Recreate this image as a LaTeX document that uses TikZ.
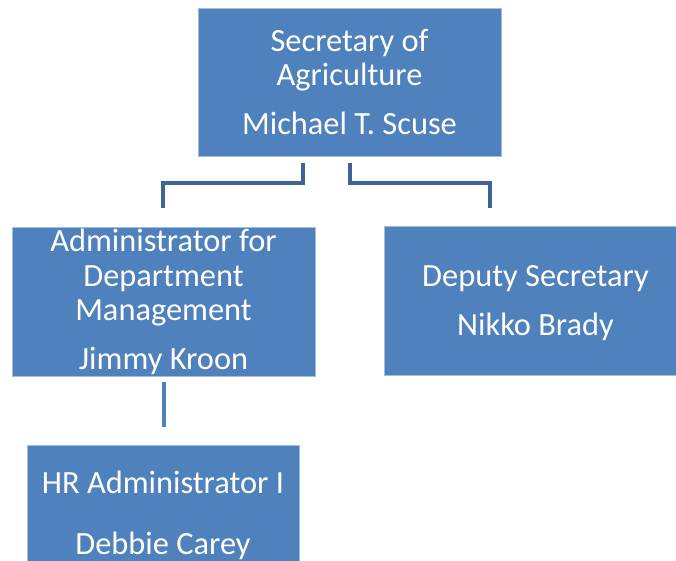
\documentclass[tikz,border=0pt]{standalone}
\usepackage{fontspec}
\setmainfont{Carlito}
\definecolor{boxblue}{RGB}{79,129,189}
\definecolor{boxedge}{RGB}{160,190,225}
\definecolor{linkblue}{RGB}{62,100,150}
\begin{document}
\begin{tikzpicture}[x=1pt,y=-1pt,
  orgbox/.style={fill=boxblue,draw=boxedge,line width=0.6pt,inner sep=0pt},
  orgtext/.style={text=white,align=center,font=\fontsize{32.4}{34.6}\selectfont,inner sep=0pt},
  link/.style={draw=linkblue,line width=4.5pt,line join=miter},
  sublink/.style={draw=boxblue,line width=3.5pt}]
\clip (0,0) rectangle (676,560);
\fill[white] (0,0) rectangle (676,560);
\node[orgbox,minimum width=303pt,minimum height=148pt] (sec) at (349.5,82) {};
\node[orgbox,minimum width=303pt,minimum height=149pt] (adm) at (163.5,301.5) {};
\node[orgbox,minimum width=303pt,minimum height=149pt] (dep) at (535.5,300.5) {};
\node[orgbox,minimum width=272pt,minimum height=139pt] (hr) at (163,514.5) {};
\node[orgtext] (sect) at (sec.center)
  {Secretary of\\Agriculture\\[14.5pt]Michael T. Scuse};
\node[orgtext] (admt) at ([yshift=-0.5pt]adm.center)
  {Administrator for\\Department\\Management\\[14.5pt]Jimmy Kroon};
\node[orgtext] (dept) at ([yshift=-2.5pt]dep.center)
  {Deputy Secretary\\[14.5pt]Nikko Brady};
\node[orgtext] (hrt) at ([yshift=-1pt]hr.center)
  {HR Administrator I\\[26pt]Debbie Carey};
\coordinate (l1) at (303,163);
\coordinate (l2) at (163,208);
\coordinate (r1) at (350,163);
\coordinate (r2) at (490,208);
\coordinate (h1) at (164,382);
\coordinate (h2) at (164,427);
\draw[link] (l1) -- ++(0,20) -| (l2);
\draw[link] (r1) -- ++(0,20) -| (r2);
\draw[sublink] (h1) -- (h2);
\end{tikzpicture}
\end{document}
